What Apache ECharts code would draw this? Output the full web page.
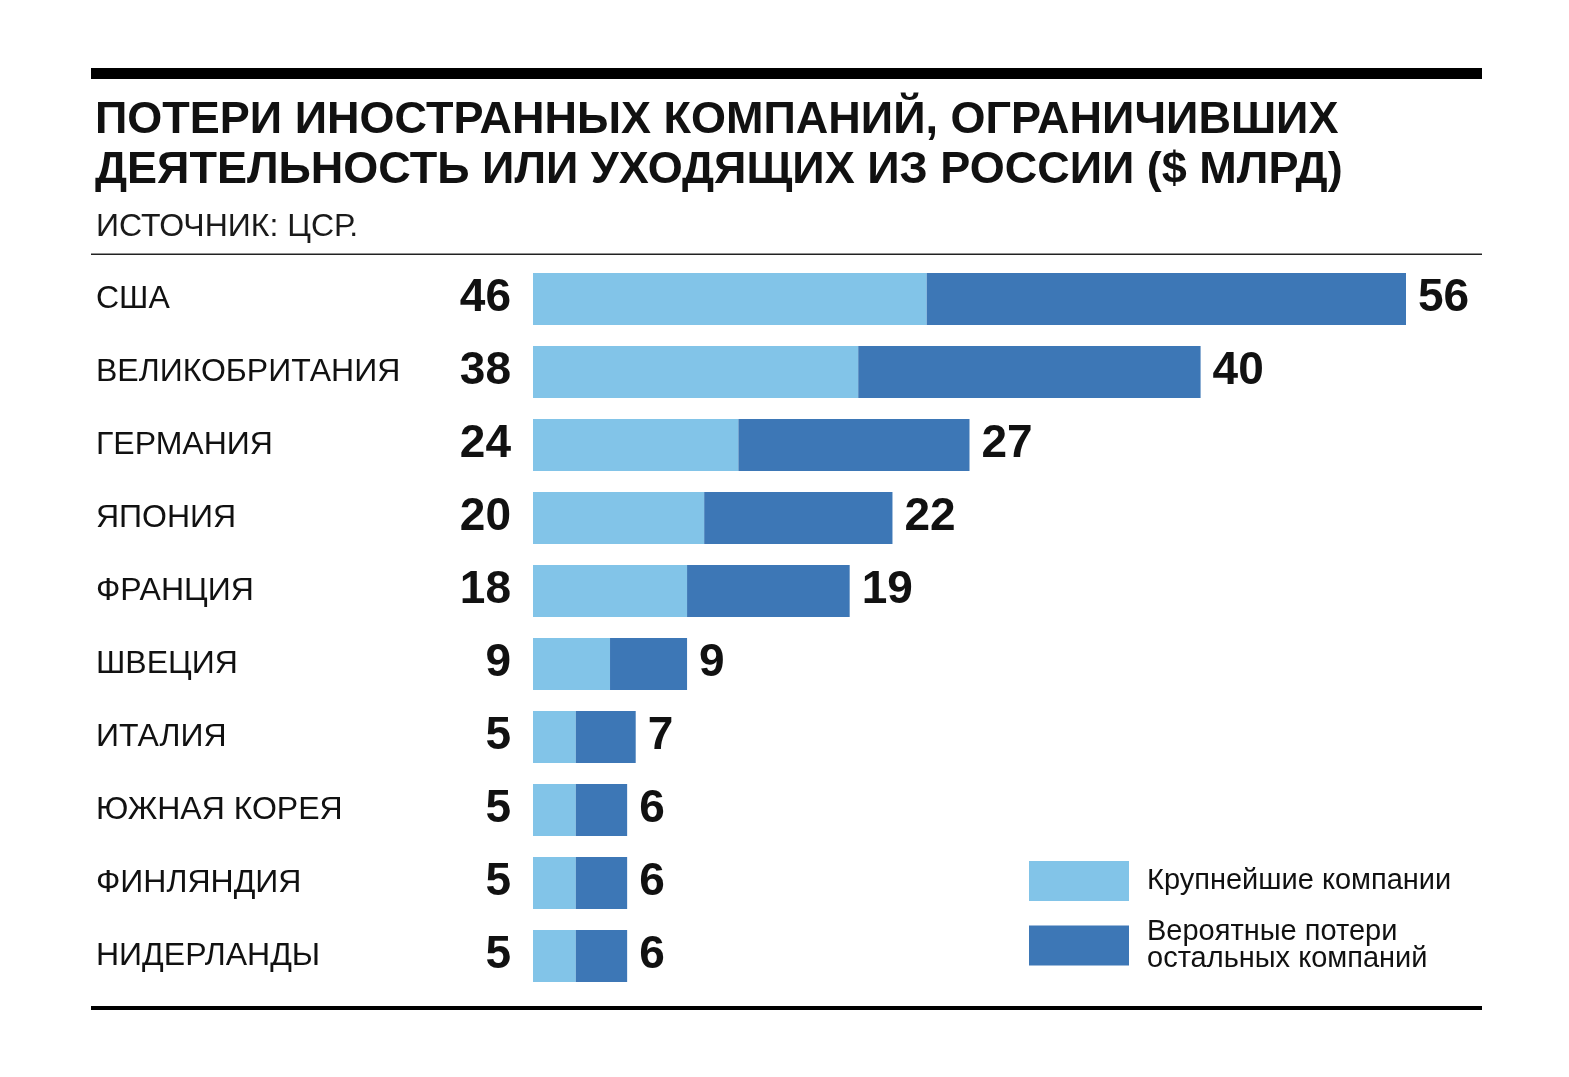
<!DOCTYPE html>
<html>
<head>
<meta charset="utf-8">
<script src="https://cdn.jsdelivr.net/npm/echarts@6/dist/echarts.min.js"></script>
<style>
html,body{margin:0;padding:0;background:#fff;}
#chart{width:1569px;height:1077px;}
</style>
</head>
<body>
<div id="chart"></div>
<script>
const titleText = 'ПОТЕРИ ИНОСТРАННЫХ КОМПАНИЙ, ОГРАНИЧИВШИХ\nДЕЯТЕЛЬНОСТЬ ИЛИ УХОДЯЩИХ ИЗ РОССИИ ($ МЛРД)';
const sourceText = 'ИСТОЧНИК: ЦСР.';
const categories = ['США','ВЕЛИКОБРИТАНИЯ','ГЕРМАНИЯ','ЯПОНИЯ','ФРАНЦИЯ','ШВЕЦИЯ','ИТАЛИЯ','ЮЖНАЯ КОРЕЯ','ФИНЛЯНДИЯ','НИДЕРЛАНДЫ'];
const largestCompanies = [46,38,24,20,18,9,5,5,5,5];
const otherCompanies = [56,40,27,22,19,9,7,6,6,6];
const seriesNames = ['Крупнейшие компании','Вероятные потери\nостальных компаний'];

const FONT = '"Liberation Sans", Arial, Helvetica, sans-serif';
const LIGHT = '#82C4E8';
const DARK = '#3D77B6';

const chart = echarts.init(document.getElementById('chart'), null, {renderer:'canvas'});
chart.setOption({
  backgroundColor:'#fff',
  animation:false,
  title:[
    {text:titleText, left:95, top:96, padding:0,
     textStyle:{fontFamily:FONT, fontSize:45, fontWeight:'bold', color:'#111', lineHeight:50}},
    {text:sourceText, left:96, top:211, padding:0,
     textStyle:{fontFamily:FONT, fontSize:32, fontWeight:'normal', color:'#1a1a1a', lineHeight:32}}
  ],
  graphic:[
    {type:'rect', shape:{x:91, y:68, width:1391, height:11}, style:{fill:'#000'}, silent:true},
    {type:'rect', shape:{x:91, y:253.5, width:1391, height:1.5}, style:{fill:'#222'}, silent:true},
    {type:'rect', shape:{x:91, y:1006, width:1391, height:4}, style:{fill:'#000'}, silent:true}
  ],
  legend:{
    orient:'vertical', left:1029, top:861, itemWidth:100, itemHeight:40, itemGap:16,
    icon:'rect', selectedMode:false, padding:0,
    textStyle:{fontFamily:FONT, fontSize:29, lineHeight:27, color:'#111', padding:[3,0,0,13]},
    data:seriesNames
  },
  grid:{left:533, right:163, top:262.5, height:730, containLabel:false},
  xAxis:{type:'value', min:0, max:102, show:false},
  yAxis:{
    type:'category', inverse:true, data:categories,
    axisLine:{show:false}, axisTick:{show:false}, splitLine:{show:false},
    axisLabel:{align:'left', margin:437, fontFamily:FONT, fontSize:32, color:'#111'}
  },
  series:[
    {name:seriesNames[0], type:'bar', stack:'total', barWidth:52, data:largestCompanies,
     itemStyle:{color:LIGHT},
     label:{show:true, position:'left', distance:22, offset:[0,-1], fontFamily:FONT, fontSize:46, fontWeight:'bold', color:'#111'}},
    {name:seriesNames[1], type:'bar', stack:'total', barWidth:52, data:otherCompanies,
     itemStyle:{color:DARK},
     label:{show:true, position:'right', distance:12, offset:[0,-1], fontFamily:FONT, fontSize:46, fontWeight:'bold', color:'#111'}}
  ]
});
</script>
</body>
</html>
